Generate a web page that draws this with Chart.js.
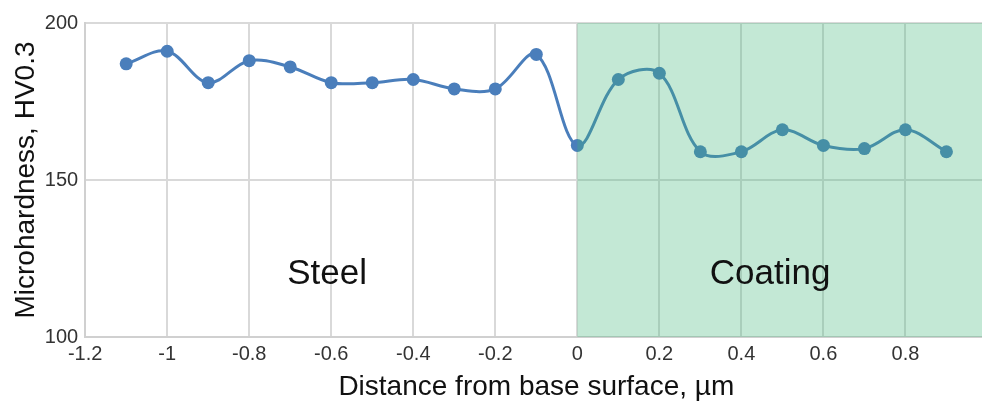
<!DOCTYPE html>
<html lang="en">
<head>
    <meta charset="UTF-8">
    <title>Microhardness profile</title>
    <script src="https://cdn.jsdelivr.net/npm/chart.js"></script>
    <style>
        body {
            margin: 0;
            background: #ffffff;
            overflow: hidden;
        }
        .chart-container {
            width: 1000px;
            height: 401px;
        }
    </style>
</head>
<body>
    <div class="chart-container">
        <canvas id="hardnessChart" width="1000" height="401"></canvas>
    </div>

    <script>
        // distance from base surface (um) and microhardness (HV0.3)
        const distance = [-1.1, -1.0, -0.9, -0.8, -0.7, -0.6, -0.5, -0.4, -0.3, -0.2, -0.1,
                          0, 0.1, 0.2, 0.3, 0.4, 0.5, 0.6, 0.7, 0.8, 0.9];
        const hardness = [187, 191, 181, 188, 186, 181, 181, 182, 179, 179, 190,
                          161, 182, 184, 159, 159, 166, 161, 160, 166, 159];

        const coatingStart = 0;          // coating region starts at the base surface
        const regionLabels = [
            { text: 'Steel', x: -0.61, y: 120 },
            { text: 'Coating', x: 0.47, y: 120 }
        ];

        const fontFamily = '"Liberation Sans", Arial, sans-serif';

        // green box over the coating side, drawn on top of the line (semi transparent)
        const coatingRegion = {
            id: 'coatingRegion',
            afterDatasetsDraw(chart) {
                const { ctx, chartArea, scales } = chart;
                const x0 = scales.x.getPixelForValue(coatingStart);
                ctx.save();
                ctx.fillStyle = 'rgba(60, 180, 120, 0.31)';
                ctx.fillRect(x0, chartArea.top, chartArea.right - x0, chartArea.bottom - chartArea.top);
                ctx.fillStyle = '#111111';
                ctx.font = '35px ' + fontFamily;
                ctx.textAlign = 'center';
                ctx.textBaseline = 'middle';
                regionLabels.forEach(l => {
                    ctx.fillText(l.text, scales.x.getPixelForValue(l.x), scales.y.getPixelForValue(l.y));
                });
                ctx.restore();
            }
        };

        const ctx = document.getElementById('hardnessChart').getContext('2d');
        new Chart(ctx, {
            type: 'line',
            data: {
                datasets: [{
                    data: distance.map((d, i) => ({ x: d, y: hardness[i] })),
                    borderColor: '#4a7ebb',
                    backgroundColor: '#4a7ebb',
                    borderWidth: 3,
                    pointRadius: 6.5,
                    pointBorderWidth: 0,
                    tension: 0.35,
                    fill: false
                }]
            },
            options: {
                responsive: false,
                animation: false,
                layout: { padding: { top: 23, left: 14, right: 12, bottom: 0 } },
                plugins: {
                    legend: { display: false },
                    tooltip: { enabled: false }
                },
                scales: {
                    x: {
                        type: 'linear',
                        min: -1.2,
                        max: 1.0,
                        ticks: {
                            stepSize: 0.2,
                            color: '#333333',
                            font: { family: fontFamily, size: 20, lineHeight: 1 },
                            padding: 7,
                            maxRotation: 0,
                            callback: v => String(Number(v.toFixed(1)))
                        },
                        grid: { color: '#d9d9d9', lineWidth: 2, drawTicks: false },
                        border: { color: '#d0d0d0', width: 2 },
                        title: {
                            display: true,
                            text: 'Distance from base surface, µm',
                            color: '#111111',
                            font: { family: fontFamily, size: 28, lineHeight: 1 },
                            padding: { top: 2, bottom: 0 }
                        }
                    },
                    y: {
                        min: 100,
                        max: 200,
                        ticks: {
                            stepSize: 50,
                            color: '#333333',
                            font: { family: fontFamily, size: 20, lineHeight: 1 },
                            padding: 7
                        },
                        grid: { color: '#d9d9d9', lineWidth: 2, drawTicks: false },
                        border: { color: '#d0d0d0', width: 2 },
                        title: {
                            display: true,
                            text: 'Microhardness, HV0.3',
                            color: '#111111',
                            font: { family: fontFamily, size: 28, lineHeight: 0.85 },
                            padding: { top: 0, bottom: 0 }
                        }
                    }
                }
            },
            plugins: [coatingRegion]
        });
    </script>
</body>
</html>
